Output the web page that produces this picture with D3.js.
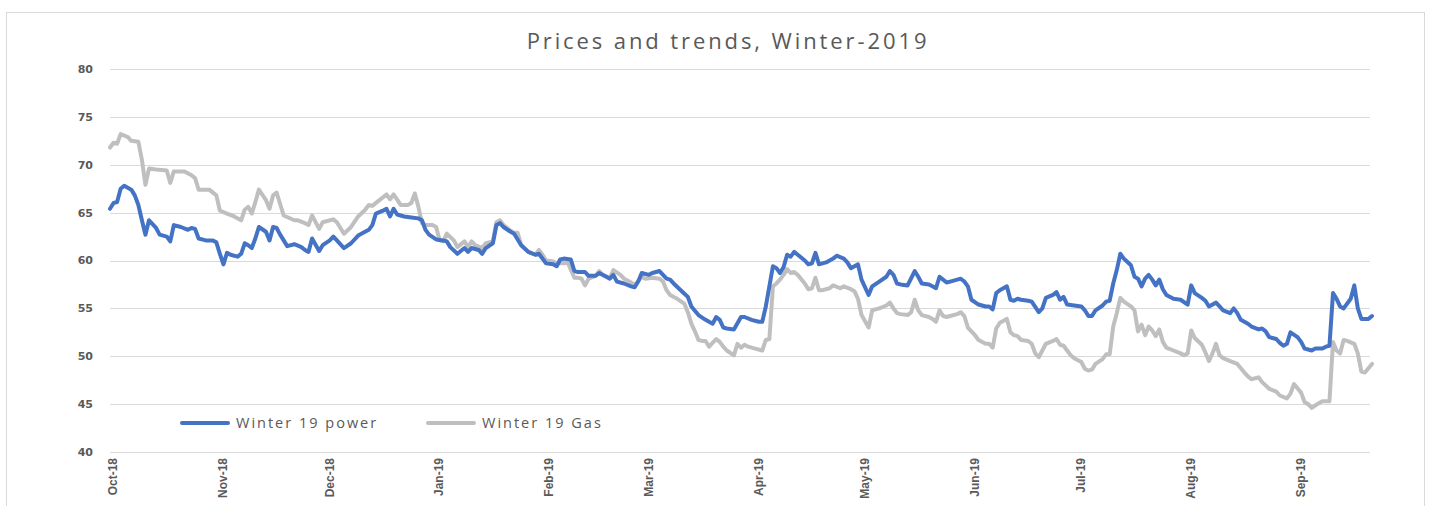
<!DOCTYPE html>
<html>
<head>
<meta charset="utf-8">
<script src="https://cdn.jsdelivr.net/npm/d3@7"></script>
<style>
  body { margin: 0; background: #fff; }
  svg { display: block; }
  .grid line { stroke: #d9d9d9; stroke-width: 1; }
  .ylab { font-family: "DejaVu Sans", sans-serif; font-weight: bold; font-size: 11px; fill: #595959; }
  .xlab { font-family: "Liberation Sans", sans-serif; font-weight: bold; font-size: 12px; fill: #595959; }
  .title { font-family: "Open Sans", sans-serif; font-size: 22px; fill: #595959; letter-spacing: 2.9px; }
  .legend text { font-family: "Open Sans", sans-serif; font-size: 14.5px; fill: #595959; letter-spacing: 2px; }
  .series { fill: none; stroke-width: 4; stroke-linejoin: round; stroke-linecap: round; }
</style>
</head>
<body>
<svg id="chart" width="1432" height="506"></svg>
<script>
// ---- data ----
const chartTitle = "Prices and trends, Winter-2019";
const seriesNames = ["Winter 19 power", "Winter 19 Gas"];
const yTicks = [40, 45, 50, 55, 60, 65, 70, 75, 80];
const monthTicks = ["2018-10-01", "2018-11-01", "2018-12-01", "2019-01-01", "2019-02-01", "2019-03-01",
    "2019-04-01", "2019-05-01", "2019-06-01", "2019-07-01", "2019-08-01", "2019-09-01"];

const powerDates = [
    "2018-10-01", "2018-10-02", "2018-10-03", "2018-10-04", "2018-10-05", "2018-10-07", "2018-10-08", "2018-10-09",
    "2018-10-10", "2018-10-11", "2018-10-12", "2018-10-14", "2018-10-15", "2018-10-17", "2018-10-18", "2018-10-19",
    "2018-10-21", "2018-10-23", "2018-10-24", "2018-10-25", "2018-10-26", "2018-10-28", "2018-10-30", "2018-10-31",
    "2018-11-01", "2018-11-02", "2018-11-03", "2018-11-04", "2018-11-06", "2018-11-07", "2018-11-08", "2018-11-09",
    "2018-11-10", "2018-11-11", "2018-11-12", "2018-11-14", "2018-11-15", "2018-11-16", "2018-11-17", "2018-11-18",
    "2018-11-20", "2018-11-22", "2018-11-24", "2018-11-25", "2018-11-26", "2018-11-27", "2018-11-29", "2018-11-30",
    "2018-12-02", "2018-12-03", "2018-12-04", "2018-12-06", "2018-12-08", "2018-12-10", "2018-12-13", "2018-12-14",
    "2018-12-15", "2018-12-17", "2018-12-18", "2018-12-19", "2018-12-20", "2018-12-21", "2018-12-23", "2018-12-25",
    "2018-12-27", "2018-12-28", "2018-12-29", "2018-12-30", "2019-01-01", "2019-01-03", "2019-01-04", "2019-01-05",
    "2019-01-07", "2019-01-09", "2019-01-10", "2019-01-11", "2019-01-13", "2019-01-14", "2019-01-15", "2019-01-17",
    "2019-01-18", "2019-01-19", "2019-01-20", "2019-01-22", "2019-01-23", "2019-01-25", "2019-01-27", "2019-01-29",
    "2019-01-30", "2019-02-01", "2019-02-03", "2019-02-04", "2019-02-05", "2019-02-06", "2019-02-08", "2019-02-09",
    "2019-02-10", "2019-02-12", "2019-02-13", "2019-02-15", "2019-02-16", "2019-02-18", "2019-02-19", "2019-02-20",
    "2019-02-21", "2019-02-23", "2019-02-25", "2019-02-26", "2019-02-27", "2019-02-28", "2019-03-02", "2019-03-03",
    "2019-03-05", "2019-03-07", "2019-03-08", "2019-03-09", "2019-03-11", "2019-03-13", "2019-03-14", "2019-03-16",
    "2019-03-18", "2019-03-20", "2019-03-21", "2019-03-22", "2019-03-23", "2019-03-24", "2019-03-26", "2019-03-28",
    "2019-03-29", "2019-03-31", "2019-04-02", "2019-04-03", "2019-04-04", "2019-04-05", "2019-04-06", "2019-04-07",
    "2019-04-08", "2019-04-09", "2019-04-10", "2019-04-11", "2019-04-12", "2019-04-13", "2019-04-15", "2019-04-16",
    "2019-04-17", "2019-04-18", "2019-04-19", "2019-04-21", "2019-04-22", "2019-04-23", "2019-04-24", "2019-04-26",
    "2019-04-27", "2019-04-28", "2019-04-29", "2019-04-30", "2019-05-01", "2019-05-03", "2019-05-04", "2019-05-06",
    "2019-05-08", "2019-05-09", "2019-05-10", "2019-05-11", "2019-05-12", "2019-05-14", "2019-05-16", "2019-05-17",
    "2019-05-18", "2019-05-20", "2019-05-21", "2019-05-22", "2019-05-23", "2019-05-24", "2019-05-25", "2019-05-26",
    "2019-05-28", "2019-05-29", "2019-05-30", "2019-05-31", "2019-06-01", "2019-06-03", "2019-06-05", "2019-06-06",
    "2019-06-07", "2019-06-08", "2019-06-09", "2019-06-11", "2019-06-12", "2019-06-13", "2019-06-14", "2019-06-15",
    "2019-06-17", "2019-06-18", "2019-06-20", "2019-06-21", "2019-06-22", "2019-06-24", "2019-06-25", "2019-06-26",
    "2019-06-27", "2019-06-28", "2019-06-30", "2019-07-02", "2019-07-03", "2019-07-04", "2019-07-05", "2019-07-06",
    "2019-07-08", "2019-07-09", "2019-07-10", "2019-07-11", "2019-07-12", "2019-07-13", "2019-07-14", "2019-07-16",
    "2019-07-17", "2019-07-18", "2019-07-19", "2019-07-20", "2019-07-21", "2019-07-22", "2019-07-23", "2019-07-24",
    "2019-07-25", "2019-07-26", "2019-07-28", "2019-07-30", "2019-08-01", "2019-08-02", "2019-08-03", "2019-08-05",
    "2019-08-06", "2019-08-07", "2019-08-09", "2019-08-10", "2019-08-11", "2019-08-13", "2019-08-14", "2019-08-15",
    "2019-08-16", "2019-08-18", "2019-08-19", "2019-08-21", "2019-08-22", "2019-08-23", "2019-08-24", "2019-08-26",
    "2019-08-27", "2019-08-28", "2019-08-29", "2019-08-30", "2019-09-01", "2019-09-02", "2019-09-03", "2019-09-04",
    "2019-09-05", "2019-09-06", "2019-09-08", "2019-09-09", "2019-09-10", "2019-09-11", "2019-09-12", "2019-09-13",
    "2019-09-14", "2019-09-16", "2019-09-17", "2019-09-18", "2019-09-19", "2019-09-21", "2019-09-22"
];
const powerValues = [
    65.4, 66.0, 66.1, 67.5, 67.8, 67.4, 66.8, 65.8,
    64.2, 62.7, 64.2, 63.4, 62.7, 62.5, 62.0, 63.7,
    63.5, 63.2, 63.4, 63.3, 62.3, 62.1, 62.1, 61.9,
    60.7, 59.6, 60.8, 60.6, 60.4, 60.7, 61.8, 61.6,
    61.3, 62.3, 63.5, 63.0, 62.1, 63.5, 63.4, 62.7,
    61.5, 61.7, 61.4, 61.1, 60.9, 62.3, 61.0, 61.6,
    62.1, 62.5, 62.1, 61.3, 61.8, 62.6, 63.2, 63.7,
    64.9, 65.2, 65.4, 64.6, 65.4, 64.8, 64.6, 64.5,
    64.4, 64.2, 63.2, 62.7, 62.2, 62.1, 62.0, 61.4,
    60.7, 61.3, 60.9, 61.3, 61.1, 60.7, 61.3, 61.8,
    63.7, 63.9, 63.5, 63.0, 62.8, 61.6, 60.9, 60.6,
    60.7, 59.7, 59.6, 59.4, 60.1, 60.2, 60.1, 58.9,
    58.8, 58.8, 58.4, 58.4, 58.7, 58.3, 58.1, 58.5,
    57.8, 57.6, 57.3, 57.2, 57.8, 58.7, 58.5, 58.7,
    58.9, 58.1, 58.0, 57.6, 56.9, 56.2, 55.2, 54.3,
    53.8, 53.4, 54.1, 53.8, 53.0, 52.9, 52.8, 54.1,
    54.1, 53.8, 53.6, 53.6, 55.2, 57.3, 59.4, 59.2,
    58.7, 59.3, 60.6, 60.4, 60.9, 60.6, 60.0, 59.6,
    59.7, 60.8, 59.6, 59.8, 60.0, 60.2, 60.5, 60.2,
    59.8, 59.2, 59.4, 59.6, 58.0, 56.4, 57.3, 57.8,
    58.3, 58.9, 58.5, 57.6, 57.5, 57.4, 58.9, 58.3,
    57.6, 57.5, 57.3, 57.1, 58.3, 58.0, 57.7, 57.8,
    58.0, 58.1, 57.8, 57.3, 55.9, 55.4, 55.2, 55.2,
    54.9, 56.6, 56.9, 57.3, 55.9, 55.8, 56.0, 55.9,
    55.8, 55.7, 54.6, 55.0, 56.1, 56.4, 56.7, 55.9,
    56.2, 55.4, 55.3, 55.2, 54.8, 54.2, 54.2, 54.8,
    55.3, 55.7, 55.8, 57.6, 59.0, 60.7, 60.2, 59.5,
    58.3, 58.1, 57.3, 58.1, 58.5, 58.0, 57.4, 58.0,
    57.0, 56.4, 56.0, 55.9, 55.4, 57.4, 56.6, 56.1,
    55.8, 55.2, 55.6, 55.2, 54.8, 54.5, 55.0, 54.5,
    53.8, 53.4, 53.1, 52.8, 52.9, 52.6, 52.0, 51.8,
    51.4, 51.1, 51.3, 52.5, 52.0, 51.5, 50.8, 50.7,
    50.6, 50.8, 50.8, 51.0, 51.1, 56.6, 56.0, 55.2,
    55.0, 56.0, 57.4, 55.0, 53.9, 53.9, 54.2
];

const gasDates = [
    "2018-10-01", "2018-10-02", "2018-10-03", "2018-10-04", "2018-10-06", "2018-10-07", "2018-10-09", "2018-10-10",
    "2018-10-11", "2018-10-12", "2018-10-14", "2018-10-17", "2018-10-18", "2018-10-19", "2018-10-22", "2018-10-24",
    "2018-10-25", "2018-10-26", "2018-10-28", "2018-10-29", "2018-10-31", "2018-11-01", "2018-11-03", "2018-11-05",
    "2018-11-07", "2018-11-08", "2018-11-09", "2018-11-10", "2018-11-11", "2018-11-12", "2018-11-14", "2018-11-15",
    "2018-11-16", "2018-11-17", "2018-11-19", "2018-11-22", "2018-11-23", "2018-11-25", "2018-11-26", "2018-11-27",
    "2018-11-29", "2018-11-30", "2018-12-01", "2018-12-03", "2018-12-04", "2018-12-06", "2018-12-08", "2018-12-10",
    "2018-12-12", "2018-12-13", "2018-12-14", "2018-12-16", "2018-12-18", "2018-12-19", "2018-12-20", "2018-12-22",
    "2018-12-24", "2018-12-25", "2018-12-26", "2018-12-27", "2018-12-28", "2018-12-29", "2018-12-31", "2019-01-01",
    "2019-01-02", "2019-01-03", "2019-01-04", "2019-01-06", "2019-01-07", "2019-01-09", "2019-01-10", "2019-01-11",
    "2019-01-12", "2019-01-14", "2019-01-15", "2019-01-17", "2019-01-18", "2019-01-19", "2019-01-20", "2019-01-22",
    "2019-01-23", "2019-01-24", "2019-01-25", "2019-01-27", "2019-01-29", "2019-01-30", "2019-01-31", "2019-02-01",
    "2019-02-03", "2019-02-04", "2019-02-06", "2019-02-07", "2019-02-09", "2019-02-10", "2019-02-11", "2019-02-12",
    "2019-02-13", "2019-02-15", "2019-02-16", "2019-02-17", "2019-02-19", "2019-02-20", "2019-02-22", "2019-02-23",
    "2019-02-25", "2019-02-26", "2019-02-28", "2019-03-01", "2019-03-03", "2019-03-05", "2019-03-06", "2019-03-07",
    "2019-03-08", "2019-03-10", "2019-03-12", "2019-03-13", "2019-03-14", "2019-03-15", "2019-03-16", "2019-03-17",
    "2019-03-18", "2019-03-19", "2019-03-21", "2019-03-22", "2019-03-23", "2019-03-24", "2019-03-26", "2019-03-27",
    "2019-03-28", "2019-03-29", "2019-03-30", "2019-04-01", "2019-04-03", "2019-04-04", "2019-04-05", "2019-04-06",
    "2019-04-07", "2019-04-08", "2019-04-09", "2019-04-10", "2019-04-11", "2019-04-12", "2019-04-13", "2019-04-15",
    "2019-04-16", "2019-04-17", "2019-04-18", "2019-04-19", "2019-04-20", "2019-04-22", "2019-04-23", "2019-04-25",
    "2019-04-26", "2019-04-28", "2019-04-29", "2019-04-30", "2019-05-01", "2019-05-03", "2019-05-04", "2019-05-06",
    "2019-05-08", "2019-05-09", "2019-05-10", "2019-05-11", "2019-05-12", "2019-05-14", "2019-05-15", "2019-05-16",
    "2019-05-17", "2019-05-18", "2019-05-20", "2019-05-21", "2019-05-22", "2019-05-23", "2019-05-24", "2019-05-25",
    "2019-05-26", "2019-05-28", "2019-05-29", "2019-05-30", "2019-05-31", "2019-06-02", "2019-06-03", "2019-06-05",
    "2019-06-06", "2019-06-07", "2019-06-08", "2019-06-09", "2019-06-11", "2019-06-12", "2019-06-13", "2019-06-14",
    "2019-06-15", "2019-06-17", "2019-06-18", "2019-06-19", "2019-06-20", "2019-06-22", "2019-06-24", "2019-06-25",
    "2019-06-26", "2019-06-27", "2019-06-29", "2019-06-30", "2019-07-02", "2019-07-03", "2019-07-04", "2019-07-05",
    "2019-07-06", "2019-07-08", "2019-07-09", "2019-07-10", "2019-07-11", "2019-07-12", "2019-07-13", "2019-07-14",
    "2019-07-16", "2019-07-17", "2019-07-18", "2019-07-19", "2019-07-20", "2019-07-21", "2019-07-22", "2019-07-23",
    "2019-07-24", "2019-07-25", "2019-07-26", "2019-07-28", "2019-07-30", "2019-07-31", "2019-08-01", "2019-08-02",
    "2019-08-03", "2019-08-05", "2019-08-06", "2019-08-07", "2019-08-08", "2019-08-09", "2019-08-10", "2019-08-11",
    "2019-08-13", "2019-08-15", "2019-08-17", "2019-08-18", "2019-08-19", "2019-08-21", "2019-08-22", "2019-08-24",
    "2019-08-26", "2019-08-27", "2019-08-29", "2019-08-30", "2019-08-31", "2019-09-02", "2019-09-03", "2019-09-04",
    "2019-09-05", "2019-09-07", "2019-09-08", "2019-09-10", "2019-09-11", "2019-09-12", "2019-09-13", "2019-09-14",
    "2019-09-15", "2019-09-17", "2019-09-18", "2019-09-19", "2019-09-20", "2019-09-22"
];
const gasValues = [
    71.8, 72.3, 72.2, 73.2, 72.9, 72.5, 72.4, 70.5,
    67.9, 69.6, 69.5, 69.4, 68.1, 69.3, 69.3, 68.9,
    68.6, 67.4, 67.4, 67.4, 66.8, 65.2, 64.9, 64.6,
    64.2, 65.3, 65.6, 64.9, 66.1, 67.4, 66.3, 65.4,
    66.8, 67.1, 64.7, 64.2, 64.2, 63.9, 63.7, 64.7,
    63.3, 64.0, 64.1, 64.3, 64.0, 62.8, 63.5, 64.6,
    65.3, 65.8, 65.7, 66.3, 66.9, 66.4, 66.9, 65.8,
    65.8, 66.0, 67.0, 65.6, 63.9, 63.7, 63.7, 63.5,
    62.1, 62.0, 62.8, 62.1, 61.4, 62.0, 61.4, 62.0,
    61.6, 61.3, 61.8, 62.0, 64.0, 64.2, 63.7, 63.1,
    62.9, 62.9, 61.6, 60.9, 60.6, 61.1, 60.6, 60.0,
    59.9, 59.7, 59.7, 59.9, 58.2, 58.2, 58.1, 57.4,
    58.1, 58.4, 58.9, 58.5, 58.2, 59.0, 58.5, 58.1,
    57.7, 57.4, 58.3, 58.1, 58.2, 58.1, 57.8, 56.9,
    56.4, 56.0, 55.5, 54.6, 53.4, 52.6, 51.7, 51.6,
    51.6, 51.0, 51.8, 51.5, 51.0, 50.6, 50.1, 51.3,
    50.9, 51.2, 51.0, 50.8, 50.6, 51.7, 51.8, 57.3,
    57.6, 58.0, 58.5, 59.1, 58.7, 58.8, 58.5, 57.6,
    57.0, 57.1, 58.2, 56.9, 56.9, 57.1, 57.4, 57.1,
    57.3, 57.0, 56.8, 56.0, 54.3, 53.0, 54.8, 55.0,
    55.3, 55.6, 55.0, 54.5, 54.4, 54.3, 54.6, 55.9,
    54.8, 54.3, 54.1, 53.9, 53.6, 54.8, 54.2, 54.1,
    54.2, 54.4, 54.6, 54.2, 53.0, 52.2, 51.7, 51.3,
    51.3, 50.9, 52.9, 53.5, 53.9, 52.5, 52.2, 52.1,
    51.7, 51.6, 51.3, 50.3, 49.9, 51.3, 51.6, 51.8,
    51.2, 51.1, 50.1, 49.8, 49.4, 48.7, 48.5, 48.6,
    49.2, 49.7, 50.2, 50.2, 53.1, 54.5, 56.1, 55.7,
    55.2, 54.8, 52.6, 53.3, 52.2, 53.1, 52.7, 52.1,
    52.8, 51.5, 50.9, 50.6, 50.3, 50.1, 50.3, 52.7,
    51.9, 51.2, 50.4, 49.5, 50.3, 51.3, 50.1, 49.8,
    49.5, 49.2, 48.3, 47.9, 47.6, 47.8, 47.3, 46.6,
    46.3, 45.9, 45.6, 46.1, 47.1, 46.2, 45.2, 45.0,
    44.6, 45.1, 45.3, 45.3, 51.5, 50.6, 50.3, 51.7,
    51.6, 51.3, 50.3, 48.4, 48.3, 49.2
];

// ---- drawing ----
const parse = d3.timeParse("%Y-%m-%d");
const svg = d3.select("#chart");

// outer chart frame
svg.append("rect")
    .attr("x", 6.5).attr("y", 12.5)
    .attr("width", 1418).attr("height", 520)
    .attr("fill", "#fff").attr("stroke", "#d9d9d9");

let x = d3.scaleTime()
    .domain([parse("2018-10-01"), parse("2019-09-22")])
    .range([110, 1372]);
let y = d3.scaleLinear().domain([40, 80]).range([452, 69]);

svg.append("text").attr("class", "title")
    .attr("x", 728).attr("y", 49)
    .attr("text-anchor", "middle")
    .text(chartTitle);

// horizontal gridlines
svg.append("g").attr("class", "grid")
    .selectAll("line")
    .data(yTicks)
    .enter().append("line")
    .attr("x1", 110).attr("x2", 1370)
    .attr("y1", d => Math.round(y(d)) + 0.5)
    .attr("y2", d => Math.round(y(d)) + 0.5);

svg.append("g").selectAll("text")
    .data(yTicks)
    .enter().append("text")
    .attr("class", "ylab")
    .attr("x", 93).attr("y", d => y(d))
    .attr("dy", "0.36em")
    .attr("text-anchor", "end")
    .text(d => d);

let fmt = d3.timeFormat("%b-%y");
svg.append("g").selectAll("text")
    .data(monthTicks.map(parse))
    .enter().append("text")
    .attr("class", "xlab")
    .attr("transform", d => "translate(" + (x(d) + 3) + ",458) rotate(-90)")
    .attr("dy", "0.36em")
    .attr("text-anchor", "end")
    .text(d => fmt(d));

let line = d3.line()
    .x(d => x(d.date))
    .y(d => y(d.v));

let powerData = powerDates.map((d, i) => ({date: parse(d), v: powerValues[i]}));
let gasData = gasDates.map((d, i) => ({date: parse(d), v: gasValues[i]}));

svg.append("path").attr("class", "series")
    .attr("stroke", "#bfbfbf")
    .attr("d", line(gasData));
svg.append("path").attr("class", "series")
    .attr("stroke", "#4472c4")
    .attr("d", line(powerData));

// legend
let legend = svg.append("g").attr("class", "legend");
let legendItems = [
    {name: seriesNames[0], color: "#4472c4", x: 182},
    {name: seriesNames[1], color: "#bfbfbf", x: 428}
];
legendItems.forEach(function (it) {
    legend.append("line")
        .attr("x1", it.x).attr("x2", it.x + 46)
        .attr("y1", 423).attr("y2", 423)
        .attr("stroke", it.color).attr("stroke-width", 4)
        .attr("stroke-linecap", "round");
    legend.append("text")
        .attr("x", it.x + 54).attr("y", 423)
        .attr("dy", "0.35em")
        .text(it.name);
});
</script>
</body>
</html>
